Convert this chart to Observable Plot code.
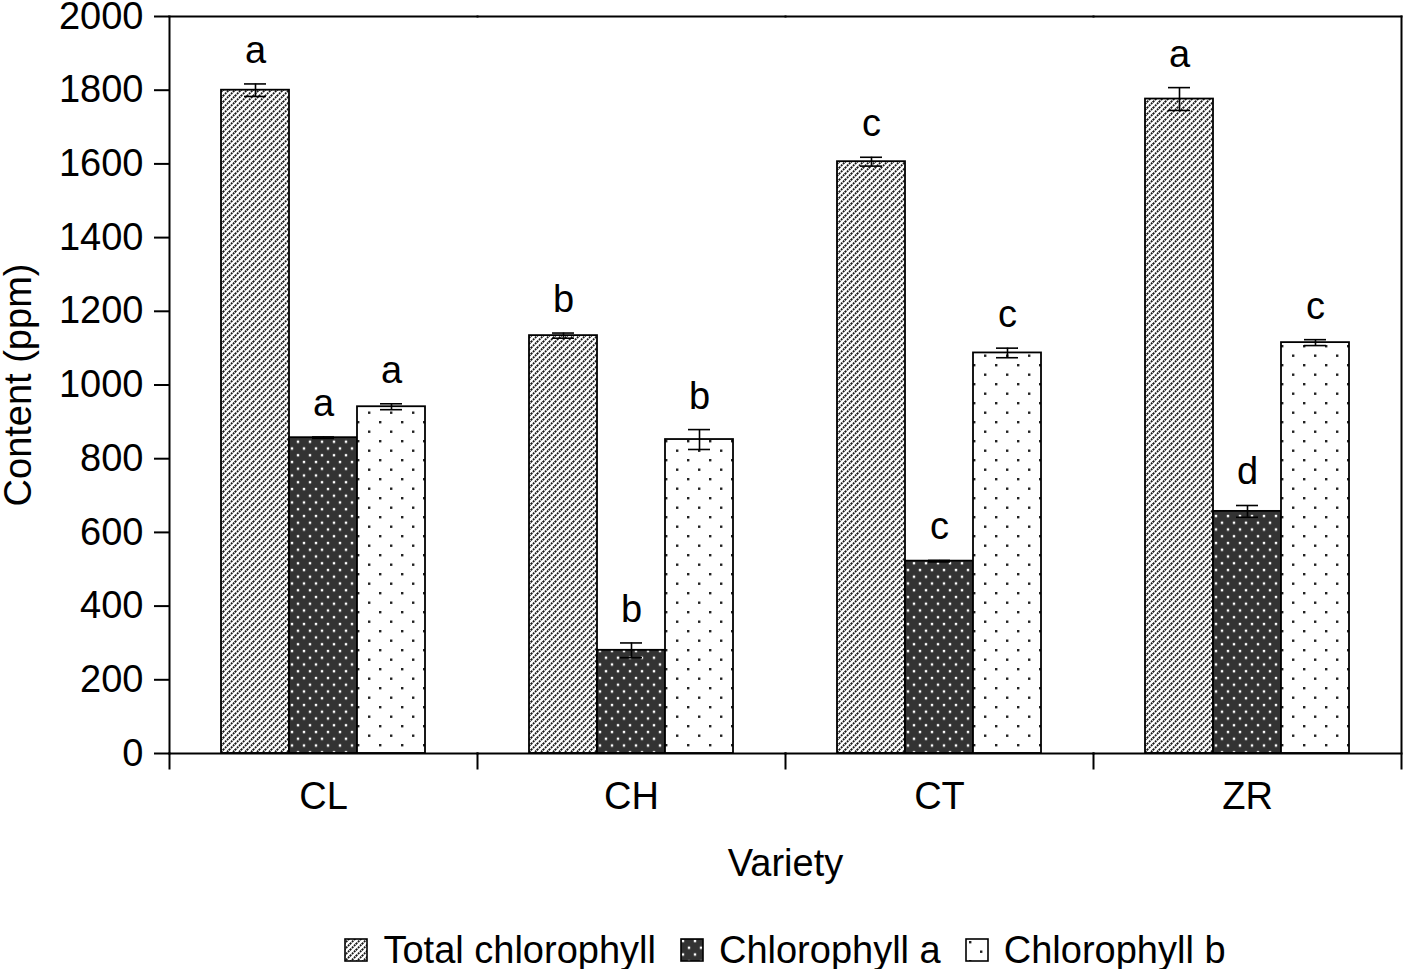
<!DOCTYPE html>
<html><head><meta charset="utf-8">
<script src="https://cdn.jsdelivr.net/npm/d3@7"></script>
<script src="https://cdn.jsdelivr.net/npm/@observablehq/plot@0.6"></script>
<style>
body{margin:0;background:#fff;font-family:"Liberation Sans",Arial,sans-serif;}
#chart svg{display:block}
#legend{display:flex;justify-content:center;align-items:center;padding:31px 2px 0 168px;font-size:38px;line-height:1;color:#000;width:1404px;box-sizing:border-box}
.item{display:flex;align-items:center;margin:0 12px}
.item svg{margin-right:15px;display:block}
</style></head><body>
<svg width="0" height="0" style="position:absolute"><defs>
<pattern id="hatch" patternUnits="userSpaceOnUse" width="6" height="6">
<rect width="6" height="6" fill="#fff"/>
<path d="M0,6 L6,0" stroke="#1a1a1a" stroke-width="1.8" stroke-dasharray="1.9 0.93"/>
<path d="M-1,1 L1,-1 M5,7 L7,5" stroke="#1a1a1a" stroke-width="1.8"/>
</pattern>
<pattern id="darkdots" patternUnits="userSpaceOnUse" width="12" height="13.5">
<rect width="12" height="13.5" fill="#333"/>
<rect x="1.8" y="1.8" width="2.4" height="2.4" fill="#fff"/>
<rect x="7.8" y="8.55" width="2.4" height="2.4" fill="#fff"/>
</pattern>
<pattern id="lightdots" patternUnits="userSpaceOnUse" width="22" height="19">
<rect width="22" height="19" fill="#fff"/>
<rect x="4" y="3" width="2.4" height="2.4" fill="#222"/>
<rect x="15" y="12.5" width="2.4" height="2.4" fill="#222"/>
</pattern>
</defs></svg>
<div id="chart"></div>
<div id="legend"></div>
<script>
const varieties = ["CL", "CH", "CT", "ZR"];
const series = ["Total chlorophyll", "Chlorophyll a", "Chlorophyll b"];
const totalChl = [1800, 1134, 1606, 1776];
const totalErr = [17, 7, 12, 31];
const chlA = [857, 280, 522, 657];
const chlAErr = [2, 20, 2, 16];
const chlB = [941, 852, 1087, 1115];
const chlBErr = [8, 27, 13, 8];
const totalLetters = ["a", "b", "c", "a"];
const chlALetters = ["a", "b", "c", "d"];
const chlBLetters = ["a", "b", "c", "c"];
const yTicks = [0, 200, 400, 600, 800, 1000, 1200, 1400, 1600, 1800, 2000];

const patternFill = {
  "Total chlorophyll": "url(#hatch)",
  "Chlorophyll a": "url(#darkdots)",
  "Chlorophyll b": "url(#lightdots)"
};

const values = [totalChl, chlA, chlB];
const errs = [totalErr, chlAErr, chlBErr];
const letters = [totalLetters, chlALetters, chlBLetters];
const rows = [];
varieties.forEach((v, i) => {
  series.forEach((s, j) => {
    rows.push({variety: v, series: s, value: values[j][i], err: errs[j][i], letter: letters[j][i]});
  });
});

const W = 1404, H = 900, mT = 16, mB = 147, mL = 168, mR = 2;
const innerH = H - mT - mB;

const chart = Plot.plot({
  width: W, height: H,
  marginTop: mT, marginBottom: mB, marginLeft: mL, marginRight: mR,
  style: {fontSize: "38px", fontFamily: "'Liberation Sans', Arial, sans-serif", background: "white", color: "black", overflow: "visible"},
  fx: {domain: varieties, padding: 0},
  x: {domain: series, paddingInner: 0, paddingOuter: 0.746, axis: null},
  y: {domain: [0, 2000], axis: null},
  color: {type: "identity"},
  marks: [
    Plot.barY(rows, {fx: "variety", x: "series", y: "value", fill: d => patternFill[d.series], stroke: "black", strokeWidth: 1.8}),
    Plot.ruleX(rows, {fx: "variety", x: "series", y1: d => d.value - d.err, y2: d => d.value + d.err, stroke: "black", strokeWidth: 1.6}),
    Plot.tickY(rows, {fx: "variety", x: "series", y: d => d.value + d.err, insetLeft: 23, insetRight: 23, stroke: "black", strokeWidth: 1.6}),
    Plot.tickY(rows, {fx: "variety", x: "series", y: d => d.value - d.err, insetLeft: 23, insetRight: 23, stroke: "black", strokeWidth: 1.6}),
    Plot.text(rows, {fx: "variety", x: "series", y: d => d.value + d.err, text: "letter", dy: -21, lineAnchor: "bottom", fill: "black"}),
    Plot.frame({anchor: "top", stroke: "black", strokeWidth: 2}),
    Plot.frame({anchor: "bottom", stroke: "black", strokeWidth: 2}),
    Plot.frame({anchor: "left", facetAnchor: "left", stroke: "black", strokeWidth: 2}),
    Plot.frame({anchor: "right", facetAnchor: "right", stroke: "black", strokeWidth: 2, insetBottom: -15}),
    Plot.frame({anchor: "left", insetTop: innerH, insetBottom: -15, stroke: "black", strokeWidth: 2}),
    Plot.axisY({ticks: yTicks, tickSize: 15, tickPadding: 11, tickFormat: d => String(d), strokeWidth: 2,
      label: "Content (ppm)", labelArrow: false, labelAnchor: "center", labelOffset: 165}),
    Plot.axisFx({anchor: "bottom", tickSize: 0, tickPadding: 29, label: "Variety", labelArrow: false, labelAnchor: "center", labelOffset: 122})
  ]
});
document.getElementById("chart").appendChild(chart);

const legend = document.getElementById("legend");
series.forEach(s => {
  const item = document.createElement("div");
  item.className = "item";
  item.innerHTML = `<svg width="24" height="24"><rect x="1" y="1" width="22" height="22" fill="${patternFill[s]}" stroke="black" stroke-width="1.6"/></svg><span>${s}</span>`;
  legend.appendChild(item);
});
</script>
</body></html>
